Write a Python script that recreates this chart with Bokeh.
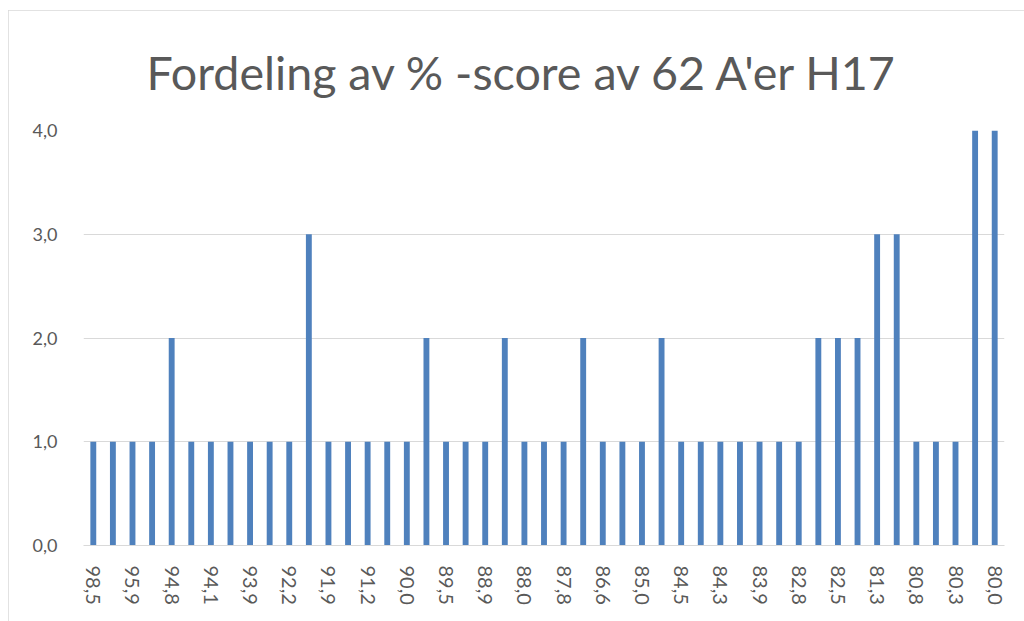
import math
from bokeh.plotting import figure
from bokeh.models import ColumnDataSource, FixedTicker, Range1d, Title
from bokeh.embed import file_html
from bokeh.resources import INLINE

# --- data -------------------------------------------------------------
score_labels = ["98,5", "97,0", "95,9", "95,2", "94,8", "94,4", "94,1", "94,0",
                "93,9", "93,0", "92,2", "92,0", "91,9", "91,5", "91,2", "90,6",
                "90,0", "89,8", "89,5", "89,2", "88,9", "88,3", "88,0", "87,9",
                "87,8", "87,0", "86,6", "85,6", "85,0", "84,8", "84,5", "84,4",
                "84,3", "84,0", "83,9", "83,3", "82,8", "82,6", "82,5", "81,8",
                "81,3", "81,0", "80,8", "80,5", "80,3", "80,1", "80,0"]
counts = [1, 1, 1, 1, 2, 1, 1, 1, 1, 1, 1, 3, 1, 1, 1, 1, 1, 2, 1, 1, 1, 2, 1, 1,
          1, 2, 1, 1, 1, 2, 1, 1, 1, 1, 1, 1, 1, 2, 2, 2, 3, 3, 1, 1, 1, 4, 4]
y_ticks = [0, 1, 2, 3, 4]
y_tick_labels = ["0,0", "1,0", "2,0", "3,0", "4,0"]
title_text = "Fordeling av % -score av 62 A'er H17"

# --- figure -----------------------------------------------------------
positions = list(range(len(counts)))
src = ColumnDataSource(dict(x=positions, top=counts))

FONT = "Lato"
GRAY = "#595959"

p = figure(width=1016, height=611, output_backend="svg", toolbar_location=None,
           x_range=Range1d(-0.5, len(counts) - 0.5), y_range=Range1d(0, 4),
           min_border_left=75, min_border_right=20, min_border_top=0,
           min_border_bottom=76, title=None)
p.styles = {"outline": "2px solid #d9d9d9", "outline-offset": "-2px",
            "margin-left": "8px", "margin-top": "10px"}

t = Title(text=title_text, align="left", offset=55, text_font=FONT,
          text_font_size="46.6px", text_font_style="normal", text_color=GRAY,
          standoff=62, padding=(8, 0, 0, 0))
p.add_layout(t, "above")

p.vbar(x="x", top="top", width=0.3, bottom=0, source=src,
       fill_color="#4f81bd", line_color=None)

p.outline_line_color = None
p.xgrid.grid_line_color = None
p.ygrid.grid_line_color = "#d9d9d9"
p.ygrid.grid_line_width = 1

p.yaxis.ticker = FixedTicker(ticks=y_ticks)
p.yaxis.major_label_overrides = {t_: l for t_, l in zip(y_ticks, y_tick_labels)}
p.yaxis.axis_line_color = None
p.yaxis.major_tick_line_color = None
p.yaxis.minor_tick_line_color = None
p.yaxis.major_label_standoff = 20
p.yaxis.major_label_text_font = FONT
p.yaxis.major_label_text_font_size = "18px"
p.yaxis.major_label_text_color = GRAY

shown = positions[::2]
p.xaxis.ticker = FixedTicker(ticks=shown)
p.xaxis.major_label_overrides = {i: score_labels[i] for i in shown}
p.xaxis.major_label_orientation = -math.pi / 2
p.xaxis.axis_line_color = "#d9d9d9"
p.xaxis.major_tick_line_color = None
p.xaxis.minor_tick_line_color = None
p.xaxis.major_label_standoff = 14
p.xaxis.major_label_text_font = FONT
p.xaxis.major_label_text_font_size = "20px"
p.xaxis.major_label_text_color = GRAY

open("out.html", "w").write(file_html(p, INLINE))
